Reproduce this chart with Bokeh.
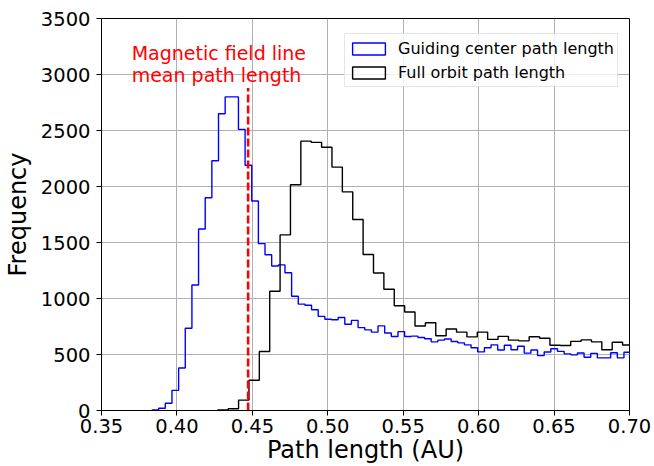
import numpy as np
from bokeh.plotting import figure
from bokeh.models import (FixedTicker, Label, Legend, LegendItem, Range1d,
                          NumeralTickFormatter)
from bokeh.embed import file_html
from bokeh.resources import INLINE

# ---------------- data ----------------
# Guiding center path length histogram
gc_bin_start = 0.3835
gc_bin_width = 0.004406
gc_counts = [5, 20, 65, 180, 380, 735, 1120, 1620, 1900, 2230,
             2650, 2800, 2800, 2510, 2190, 1870, 1490, 1390, 1290, 1300,
             1230, 1020, 950, 940, 900, 840, 815, 810, 830, 770,
             805, 740, 720, 700, 756, 692, 661, 704, 661, 664,
             652, 640, 613, 628, 638, 616, 604, 586, 560, 523,
             560, 586, 540, 583, 542, 574, 512, 540, 490, 522,
             551, 528, 506, 497, 513, 476, 510, 470, 470, 516,
             470, 520]

# Full orbit path length histogram
fo_bin_start = 0.4271
fo_bin_width = 0.00688
fo_counts = [6, 15, 93, 270, 527, 1065, 1568, 2016, 2405, 2394,
             2351, 2173, 1952, 1705, 1393, 1228, 1083, 935, 880, 755,
             783, 667, 728, 700, 657, 700, 635, 662, 628, 622,
             658, 645, 583, 580, 617, 631, 613, 543, 610, 585]

# Magnetic field line mean path length
field_mean = 0.4472
field_top = 2880
note_x = 0.37
note_y = 3000
note_lines = ["Magnetic field line", "mean path length"]

x_ticks = [0.35, 0.40, 0.45, 0.50, 0.55, 0.60, 0.65, 0.70]
y_ticks = [0, 500, 1000, 1500, 2000, 2500, 3000, 3500]
series_labels = ["Guiding center path length", "Full orbit path length"]


def outline(start, width, counts):
    edges = start + width * np.arange(len(counts) + 1)
    xs = np.repeat(edges, 2)
    ys = np.concatenate([[0], np.repeat(counts, 2), [0]])
    return xs, ys


FONT = "DejaVu Sans"

p = figure(width=654, height=466,
           x_range=Range1d(x_ticks[0], x_ticks[-1]),
           y_range=Range1d(y_ticks[0], y_ticks[-1]),
           output_backend="svg", toolbar_location=None,
           min_border_left=101, min_border_right=25,
           min_border_top=18, min_border_bottom=40)

p.background_fill_color = "white"
p.border_fill_color = "white"
p.outline_line_color = "black"
p.outline_line_width = 1
p.outline_line_alpha = 1

# grid
p.xgrid.ticker = FixedTicker(ticks=x_ticks)
p.ygrid.ticker = FixedTicker(ticks=y_ticks)
p.grid.grid_line_color = "#b0b0b0"
p.grid.grid_line_width = 1

# axes
p.xaxis.ticker = FixedTicker(ticks=x_ticks)
p.yaxis.ticker = FixedTicker(ticks=y_ticks)
p.xaxis.formatter = NumeralTickFormatter(format="0.00")
for ax in (p.xaxis, p.yaxis):
    ax.axis_line_color = "black"
    ax.axis_line_width = 1
    ax.major_tick_line_color = "black"
    ax.major_tick_line_width = 1
    ax.major_tick_out = 5
    ax.major_tick_in = 0
    ax.minor_tick_line_color = None
    ax.major_label_text_font = FONT
    ax.major_label_text_font_size = "19.5px"
    ax.major_label_text_color = "black"
    ax.axis_label_text_font = FONT
    ax.axis_label_text_font_size = "24px"
    ax.axis_label_text_font_style = "normal"
    ax.axis_label_text_color = "black"
p.xaxis.major_label_standoff = 3
p.yaxis.major_label_standoff = 6
p.xaxis.axis_label_standoff = 0
p.yaxis.axis_label_standoff = 6
p.xaxis.axis_label = "Path length (AU)"
p.yaxis.axis_label = "Frequency"

# histograms (step outlines)
gx, gy = outline(gc_bin_start, gc_bin_width, gc_counts)
fx, fy = outline(fo_bin_start, fo_bin_width, fo_counts)
p.line(gx, gy, line_color="#0000ff", line_width=1.4)
p.line(fx, fy, line_color="#000000", line_width=1.4)

# mean field line path length
p.line([field_mean, field_mean], [0, field_top], line_color="#ff0000",
       line_width=2.6, line_dash="8 3")

# annotation text
p.add_layout(Label(x=note_x, y=note_y, text=note_lines[1],
                   text_font=FONT, text_font_size="19px",
                   text_color="#ff0000", text_baseline="alphabetic",
                   text_align="left"))
p.add_layout(Label(x=note_x, y=note_y, y_offset=22, text=note_lines[0],
                   text_font=FONT, text_font_size="19px",
                   text_color="#ff0000", text_baseline="alphabetic",
                   text_align="left"))

# legend with rectangle handles (renderers hold one invisible NaN quad)
gc_handle = p.quad(left=[np.nan], right=[np.nan], top=[np.nan], bottom=[np.nan],
                   fill_alpha=0, line_color="#0000ff", line_width=1.4)
fo_handle = p.quad(left=[np.nan], right=[np.nan], top=[np.nan], bottom=[np.nan],
                   fill_alpha=0, line_color="#000000", line_width=1.4)
legend = Legend(items=[LegendItem(label=series_labels[0], renderers=[gc_handle]),
                       LegendItem(label=series_labels[1], renderers=[fo_handle])],
                location=(243, 323))
legend.label_text_font = FONT
legend.label_text_font_size = "16px"
legend.label_text_color = "black"
legend.glyph_width = 41
legend.glyph_height = 15
legend.label_standoff = 9
legend.label_height = 22
legend.padding = 3
legend.spacing = 2
legend.margin = 0
legend.border_line_color = "#cccccc"
legend.border_line_width = 1
legend.background_fill_color = "white"
legend.background_fill_alpha = 0.8
p.add_layout(legend)

open("out.html", "w").write(file_html(p, INLINE))
